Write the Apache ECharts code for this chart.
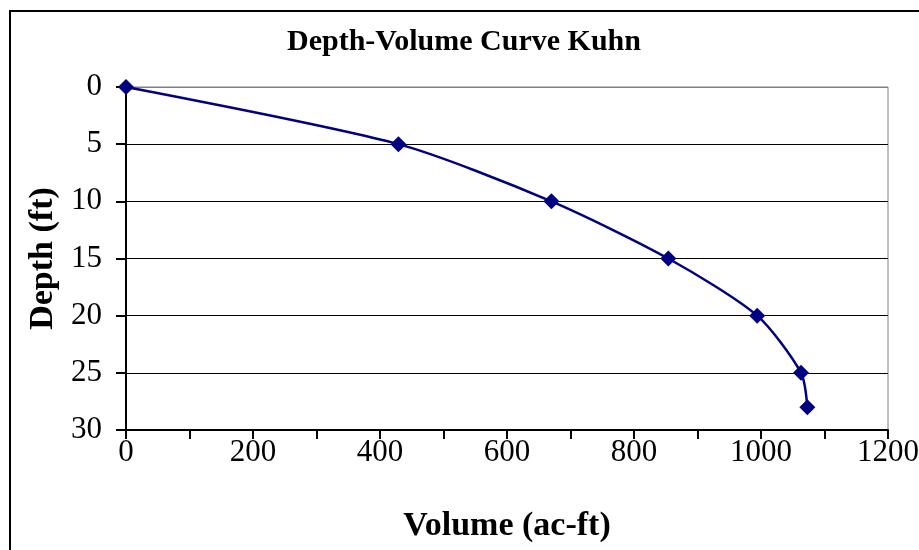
<!DOCTYPE html>
<html>
<head>
<meta charset="utf-8">
<script src="https://cdn.jsdelivr.net/npm/echarts@6/dist/echarts.min.js"></script>
<style>
html, body {margin: 0; padding: 0; background: #fff;}
#chart {width: 919px; height: 550px;}
</style>
</head>
<body>
<div id="chart"></div>
<script>
// values
var volume = [0, 429, 670, 854, 994, 1063, 1073];
var depth = [0, 5, 10, 15, 20, 25, 28];

var pts = volume.map(function (v, i) { return [v, depth[i]]; });
var serif = '"Liberation Serif", "Times New Roman", serif';

var chart = echarts.init(document.getElementById('chart'));
var opt = {
    animation: false,
    backgroundColor: '#fff',
    title: {
        text: 'Depth-Volume Curve Kuhn',
        left: 459, top: 22, textAlign: 'center',
        textStyle: {fontFamily: serif, fontWeight: 'bold', fontSize: 30, color: '#000'}
    },
    grid: {
        left: 126, right: 31, top: 87, bottom: 120,
        outerBoundsMode: 'none', containLabel: false,
        show: true, borderColor: '#808080', borderWidth: 1
    },
    xAxis: {
        type: 'value', min: 0, max: 1200, interval: 100,
        name: 'Volume (ac-ft)', nameLocation: 'middle', nameGap: 79,
        nameTextStyle: {fontFamily: serif, fontWeight: 'bold', fontSize: 34, color: '#000'},
        axisLine: {onZero: false, lineStyle: {color: '#000', width: 2}},
        axisTick: {show: true, length: 9, lineStyle: {color: '#000', width: 2}},
        axisLabel: {
            margin: 7, fontFamily: serif, fontSize: 31, color: '#000', hideOverlap: false,
            formatter: function (v) { return v % 200 === 0 ? v : ''; }
        },
        splitLine: {show: false}
    },
    yAxis: {
        type: 'value', inverse: true, min: 0, max: 30, interval: 5,
        name: 'Depth (ft)', nameLocation: 'middle', nameGap: 66,
        nameTextStyle: {fontFamily: serif, fontWeight: 'bold', fontSize: 34, color: '#000'},
        axisLine: {onZero: false, lineStyle: {color: '#000', width: 2}},
        axisTick: {show: true, length: 10, lineStyle: {color: '#000', width: 2}},
        axisLabel: {margin: 24, fontFamily: serif, fontSize: 31, color: '#000'},
        splitLine: {show: true, lineStyle: {color: ['#808080', '#000', '#000', '#000', '#000', '#000', '#000'], width: 1}}
    },
    series: [{
        type: 'line',
        data: pts,
        smooth: 0.25,
        symbol: 'diamond',
        symbolSize: 16,
        lineStyle: {color: '#000080', width: 2.5},
        itemStyle: {color: '#000080'}
    }],
    graphic: [{
        type: 'rect',
        shape: {x: 10, y: 11, width: 1000, height: 700},
        style: {fill: null, stroke: '#000', lineWidth: 2},
        silent: true
    }]
};
chart.setOption(opt);
</script>
</body>
</html>
